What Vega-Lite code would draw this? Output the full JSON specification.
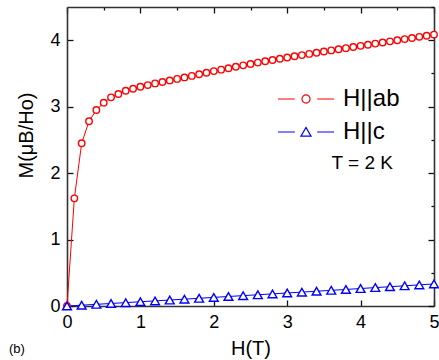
{
  "$schema": "https://vega.github.io/schema/vega-lite/v6.json",
  "width": 367,
  "height": 299,
  "autosize": {"type": "none"},
  "padding": {"left": 67, "top": 7, "right": 5, "bottom": 54},
  "config": {
    "view": {"stroke": null},
    "font": "Liberation Sans",
    "axis": {
      "grid": false,
      "domainColor": "#333333",
      "domainWidth": 1.6,
      "tickColor": "#111111",
      "tickWidth": 1.3,
      "labelColor": "#000000",
      "labelFontSize": 18,
      "labelFont": "Liberation Sans",
      "labelFlush": false,
      "labelOverlap": false,
      "titleColor": "#000000",
      "titleFont": "Liberation Sans",
      "titleFontSize": 20,
      "titleFontWeight": "normal"
    }
  },
  "title": {
    "text": "(b)",
    "orient": "bottom",
    "anchor": "start",
    "frame": "group",
    "fontSize": 13,
    "fontWeight": "normal",
    "font": "Liberation Sans",
    "color": "#000000",
    "dx": -58,
    "offset": -15
  },
  "data": {
    "values": [
      {"s": "H||ab", "H": 0.0, "M": 0.0},
      {"s": "H||ab", "H": 0.1, "M": 1.62},
      {"s": "H||ab", "H": 0.2, "M": 2.45},
      {"s": "H||ab", "H": 0.3, "M": 2.78},
      {"s": "H||ab", "H": 0.4, "M": 2.95},
      {"s": "H||ab", "H": 0.5, "M": 3.06},
      {"s": "H||ab", "H": 0.6, "M": 3.14},
      {"s": "H||ab", "H": 0.7, "M": 3.19},
      {"s": "H||ab", "H": 0.8, "M": 3.24},
      {"s": "H||ab", "H": 0.9, "M": 3.27},
      {"s": "H||ab", "H": 1.0, "M": 3.3},
      {"s": "H||ab", "H": 1.1, "M": 3.325},
      {"s": "H||ab", "H": 1.2, "M": 3.35},
      {"s": "H||ab", "H": 1.3, "M": 3.372},
      {"s": "H||ab", "H": 1.4, "M": 3.395},
      {"s": "H||ab", "H": 1.5, "M": 3.418},
      {"s": "H||ab", "H": 1.6, "M": 3.44},
      {"s": "H||ab", "H": 1.7, "M": 3.463},
      {"s": "H||ab", "H": 1.8, "M": 3.487},
      {"s": "H||ab", "H": 1.9, "M": 3.51},
      {"s": "H||ab", "H": 2.0, "M": 3.535},
      {"s": "H||ab", "H": 2.1, "M": 3.557},
      {"s": "H||ab", "H": 2.2, "M": 3.579},
      {"s": "H||ab", "H": 2.3, "M": 3.6},
      {"s": "H||ab", "H": 2.4, "M": 3.622},
      {"s": "H||ab", "H": 2.5, "M": 3.643},
      {"s": "H||ab", "H": 2.6, "M": 3.663},
      {"s": "H||ab", "H": 2.7, "M": 3.683},
      {"s": "H||ab", "H": 2.8, "M": 3.702},
      {"s": "H||ab", "H": 2.9, "M": 3.721},
      {"s": "H||ab", "H": 3.0, "M": 3.74},
      {"s": "H||ab", "H": 3.1, "M": 3.758},
      {"s": "H||ab", "H": 3.2, "M": 3.776},
      {"s": "H||ab", "H": 3.3, "M": 3.794},
      {"s": "H||ab", "H": 3.4, "M": 3.812},
      {"s": "H||ab", "H": 3.5, "M": 3.83},
      {"s": "H||ab", "H": 3.6, "M": 3.847},
      {"s": "H||ab", "H": 3.7, "M": 3.864},
      {"s": "H||ab", "H": 3.8, "M": 3.881},
      {"s": "H||ab", "H": 3.9, "M": 3.898},
      {"s": "H||ab", "H": 4.0, "M": 3.915},
      {"s": "H||ab", "H": 4.1, "M": 3.932},
      {"s": "H||ab", "H": 4.2, "M": 3.949},
      {"s": "H||ab", "H": 4.3, "M": 3.966},
      {"s": "H||ab", "H": 4.4, "M": 3.983},
      {"s": "H||ab", "H": 4.5, "M": 4.0},
      {"s": "H||ab", "H": 4.6, "M": 4.017},
      {"s": "H||ab", "H": 4.7, "M": 4.034},
      {"s": "H||ab", "H": 4.8, "M": 4.051},
      {"s": "H||ab", "H": 4.9, "M": 4.068},
      {"s": "H||ab", "H": 5.0, "M": 4.085},
      {"s": "H||c", "H": 0.0, "M": 0.0},
      {"s": "H||c", "H": 0.2, "M": 0.012},
      {"s": "H||c", "H": 0.4, "M": 0.025},
      {"s": "H||c", "H": 0.6, "M": 0.038},
      {"s": "H||c", "H": 0.8, "M": 0.051},
      {"s": "H||c", "H": 1.0, "M": 0.064},
      {"s": "H||c", "H": 1.2, "M": 0.077},
      {"s": "H||c", "H": 1.4, "M": 0.09},
      {"s": "H||c", "H": 1.6, "M": 0.103},
      {"s": "H||c", "H": 1.8, "M": 0.116},
      {"s": "H||c", "H": 2.0, "M": 0.13},
      {"s": "H||c", "H": 2.2, "M": 0.143},
      {"s": "H||c", "H": 2.4, "M": 0.156},
      {"s": "H||c", "H": 2.6, "M": 0.169},
      {"s": "H||c", "H": 2.8, "M": 0.182},
      {"s": "H||c", "H": 3.0, "M": 0.196},
      {"s": "H||c", "H": 3.2, "M": 0.209},
      {"s": "H||c", "H": 3.4, "M": 0.222},
      {"s": "H||c", "H": 3.6, "M": 0.236},
      {"s": "H||c", "H": 3.8, "M": 0.249},
      {"s": "H||c", "H": 4.0, "M": 0.263},
      {"s": "H||c", "H": 4.2, "M": 0.277},
      {"s": "H||c", "H": 4.4, "M": 0.29},
      {"s": "H||c", "H": 4.6, "M": 0.304},
      {"s": "H||c", "H": 4.8, "M": 0.318},
      {"s": "H||c", "H": 5.0, "M": 0.332}
    ]
  },
  "layer": [
    {
      "layer": [
        {
          "mark": {"type": "line", "strokeWidth": 1, "clip": false},
          "encoding": {
            "x": {
              "field": "H", "type": "quantitative",
              "scale": {"domain": [0, 5], "nice": false, "zero": false},
              "axis": {
                "title": "H(T)",
                "values": [0, 0.5, 1, 1.5, 2, 2.5, 3, 3.5, 4, 4.5, 5],
                "labelExpr": "datum.value % 1 === 0 ? '' + datum.value : ''",
                "tickSize": {"condition": {"test": "datum.value % 1 === 0", "value": -6}, "value": -3},
                "labelPadding": 13,
                "titlePadding": 7
              }
            },
            "y": {
              "field": "M", "type": "quantitative",
              "scale": {"domain": [0, 4.5], "nice": false, "zero": false},
              "axis": {
                "title": "M(μB/Ho)",
                "values": [0, 0.5, 1, 1.5, 2, 2.5, 3, 3.5, 4, 4.5],
                "labelExpr": "datum.value % 1 === 0 ? '' + datum.value : ''",
                "tickSize": {"condition": {"test": "datum.value % 1 === 0", "value": -6}, "value": -3},
                "labelPadding": 13,
                "titlePadding": 13,
                "titleY": 128
              }
            },
            "color": {
              "field": "s", "type": "nominal",
              "scale": {"domain": ["H||ab", "H||c"], "range": ["#ff0000", "#0000ff"]},
              "legend": {
                "orient": "none",
                "legendX": 224,
                "legendY": 77,
                "padding": 0,
                "title": "T = 2 K",
                "titleOrient": "bottom",
                "titleAnchor": "end",
                "titleFont": "Liberation Sans",
                "titleFontSize": 19,
                "titleFontWeight": "normal",
                "titleColor": "#000000",
                "titlePadding": 10,
                "labelFont": "Liberation Sans",
                "labelFontSize": 24,
                "labelColor": "#000000",
                "labelOffset": 22,
                "symbolSize": 784,
                "symbolStrokeWidth": 1.2,
                "rowPadding": 6,
                "encode": {
                  "symbols": {
                    "update": {
                      "shape": {"signal": "datum.value === 'H||ab' ? 'M-2,0L-0.8,0M0.8,0L2,0M0.29,0A0.29,0.29 0 1,1 -0.29,0A0.29,0.29 0 1,1 0.29,0' : 'M-2,0L-0.8,0M0.8,0L2,0M-0.36,0.3L0.36,0.3L0,-0.33Z'"},
                      "fill": {"value": "transparent"}
                    }
                  },
                  "title": {
                    "update": {
                      "dx": {"value": -6}
                    }
                  }
                }
              }
            }
          }
        },
        {
          "transform": [{"filter": "datum.s === 'H||ab'"}],
          "mark": {"type": "point", "shape": "circle", "size": 42, "filled": false, "fill": "white", "stroke": "#ff0000", "opacity": 1, "strokeWidth": 1.4, "clip": false},
          "encoding": {
            "x": {"field": "H", "type": "quantitative"},
            "y": {"field": "M", "type": "quantitative"}
          }
        },
        {
          "transform": [{"filter": "datum.s === 'H||c'"}],
          "mark": {"type": "point", "shape": "triangle-up", "size": 78, "filled": false, "fill": "white", "stroke": "#0000ff", "opacity": 1, "strokeWidth": 1.4, "clip": false},
          "encoding": {
            "x": {"field": "H", "type": "quantitative"},
            "y": {"field": "M", "type": "quantitative"}
          }
        }
      ]
    },
    {
      "mark": {"type": "point", "opacity": 0},
      "encoding": {
        "x": {
          "field": "H", "type": "quantitative",
          "axis": {
            "orient": "top", "title": null, "labels": false,
            "values": [0, 0.5, 1, 1.5, 2, 2.5, 3, 3.5, 4, 4.5, 5],
            "tickSize": {"condition": {"test": "datum.value % 1 === 0", "value": -6}, "value": -3}
          }
        },
        "y": {
          "field": "M", "type": "quantitative",
          "axis": {
            "orient": "right", "title": null, "labels": false,
            "values": [0, 0.5, 1, 1.5, 2, 2.5, 3, 3.5, 4, 4.5],
            "tickSize": {"condition": {"test": "datum.value % 1 === 0", "value": -6}, "value": -3}
          }
        }
      }
    }
  ],
  "resolve": {"axis": {"x": "independent", "y": "independent"}}
}
